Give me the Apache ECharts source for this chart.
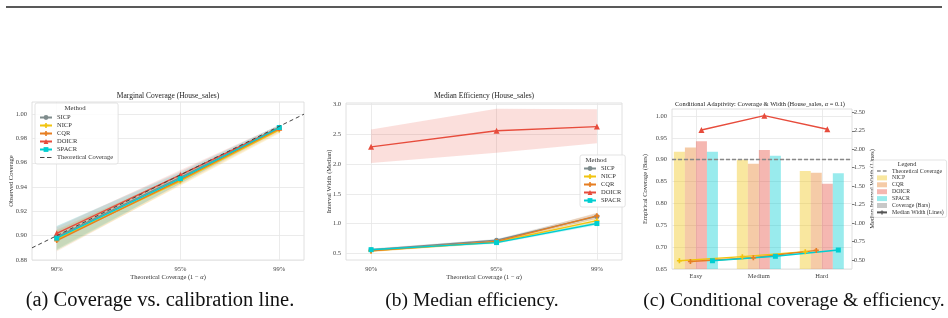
<!DOCTYPE html>
<html>
<head>
<meta charset="utf-8">
<script src="https://cdn.jsdelivr.net/npm/echarts@6/dist/echarts.min.js"></script>
<style>
  html, body { margin: 0; padding: 0; background: #fff; }
  #chart { width: 948px; height: 318px; }
</style>
</head>
<body>
<div id="chart"></div>
<script>
// ---- data ----
var levels = [0.90, 0.95, 0.99];
var covTicks = [0.88, 0.90, 0.92, 0.94, 0.96, 0.98, 1.00];
var widthTicks = [0.5, 1.0, 1.5, 2.0, 2.5, 3.0];

// (a) marginal coverage, mean and band
var covSICP = [0.899, 0.948, 0.989];
var covNICP = [0.897, 0.945, 0.987];
var covCQR = [0.896, 0.946, 0.988];
var covDOICR = [0.902, 0.950, 0.989];
var covSPACR = [0.898, 0.947, 0.989];
var covLoSICP = [0.889, 0.943, 0.986], covHiSICP = [0.908, 0.953, 0.991];
var covLoNICP = [0.888, 0.941, 0.984], covHiNICP = [0.905, 0.950, 0.990];
var covLoCQR = [0.887, 0.942, 0.985], covHiCQR = [0.904, 0.950, 0.990];
var covLoDOICR = [0.895, 0.946, 0.987], covHiDOICR = [0.907, 0.954, 0.991];
var covLoSPACR = [0.888, 0.943, 0.987], covHiSPACR = [0.908, 0.952, 0.991];

// (b) median width, mean and band
var widSICP = [0.56, 0.72, 1.12];
var widNICP = [0.54, 0.69, 1.05];
var widCQR = [0.54, 0.70, 1.13];
var widDOICR = [2.29, 2.56, 2.63];
var widSPACR = [0.56, 0.68, 1.00];
var widLoSICP = [0.54, 0.70, 1.08], widHiSICP = [0.58, 0.74, 1.17];
var widLoNICP = [0.52, 0.67, 1.01], widHiNICP = [0.56, 0.71, 1.09];
var widLoCQR = [0.52, 0.68, 1.08], widHiCQR = [0.56, 0.72, 1.18];
var widLoDOICR = [2.02, 2.19, 2.35], widHiDOICR = [2.58, 2.93, 2.92];
var widLoSPACR = [0.54, 0.66, 0.97], widHiSPACR = [0.58, 0.70, 1.03];

// (c) conditional coverage (bars) and width (lines)
var difficulty = ['Easy', 'Medium', 'Hard'];
var condCovNICP = [0.918, 0.900, 0.874];
var condCovCQR = [0.928, 0.891, 0.870];
var condCovDOICR = [0.942, 0.922, 0.845];
var condCovSPACR = [0.918, 0.909, 0.869];
var condWidNICP = [0.49, 0.545, 0.613];
var condWidCQR = [0.48, 0.53, 0.63];
var condWidDOICR = [2.26, 2.455, 2.27];
var condWidSPACR = [0.49, 0.55, 0.635];
var targetCoverage = 0.90;
var condCovTicks = [0.65, 0.70, 0.75, 0.80, 0.85, 0.90, 0.95, 1.00];
var condWidTicks = [0.50, 0.75, 1.00, 1.25, 1.50, 1.75, 2.00, 2.25, 2.50];

// ---- style ----
var FONT = 'Liberation Serif';
var C = { SICP: '#7f8c8d', NICP: '#f1c40f', CQR: '#e67e22', DOICR: '#e74c3c', SPACR: '#00ced1' };
var SYM = {
  SICP: 'circle',
  NICP: 'path://M-1,-3H1V-1H3V1H1V3H-1V1H-3V-1H-1Z',
  CQR: 'path://M-1,-3H1V-1H3V1H1V3H-1V1H-3V-1H-1Z',
  DOICR: 'triangle',
  SPACR: 'rect'
};
// dashed-line legend icon (two short dashes)
var DASH_ICON = 'path://M0,0h0.01v0.01h-0.01zM0,5h9v2h-9zM14,5h9v2h-9zM24,12h0.01v0.01h-0.01z';
var X_MIN = 0.89, X_MAX = 1.0;
var BAR_W = 0.175; // bar width in category units, as in the source plot

var chart = echarts.init(document.getElementById('chart'));

function tick(v, d) { return v.toFixed(d); }

function valueX(grid, name) {
  return {
    type: 'value', gridIndex: grid, min: X_MIN, max: X_MAX,
    axisLine: { show: false },
    axisTick: { show: false, customValues: levels },
    axisLabel: { customValues: levels, formatter: function (v) { return Math.round(v * 100) + '%'; },
      fontFamily: FONT, fontSize: 6.5, color: '#444', margin: 6 },
    splitLine: { show: true, lineStyle: { color: '#e6e6e6', width: 0.8 } },
    name: name, nameLocation: 'middle', nameGap: 13,
    nameTextStyle: { fontFamily: FONT, fontSize: 6.5, color: '#333',
      rich: { i: { fontStyle: 'italic', fontFamily: FONT, fontSize: 6.5, color: '#333' } } }
  };
}

function valueY(grid, min, max, ticks, dec, name, gap) {
  return {
    type: 'value', gridIndex: grid, min: min, max: max,
    axisLine: { show: false },
    axisTick: { show: false, customValues: ticks },
    axisLabel: { customValues: ticks, formatter: function (v) { return tick(v, dec); },
      fontFamily: FONT, fontSize: 6.5, color: '#444', margin: 5 },
    splitLine: { show: true, lineStyle: { color: '#e6e6e6', width: 0.8 } },
    name: name, nameLocation: 'middle', nameGap: gap, nameRotate: 90, nameMoveOverlap: false,
    nameTextStyle: { fontFamily: FONT, fontSize: 6.5, color: '#333' }
  };
}

function band(lo, hi, color, opacity, xi, yi) {
  return {
    type: 'custom', xAxisIndex: xi, yAxisIndex: yi, silent: true, z: 1,
    data: [[levels[0], lo[0]]],
    renderItem: function (params, api) {
      var pts = [];
      for (var i = 0; i < levels.length; i++) pts.push(api.coord([levels[i], hi[i]]));
      for (var j = levels.length - 1; j >= 0; j--) pts.push(api.coord([levels[j], lo[j]]));
      return { type: 'polygon', shape: { points: pts }, style: { fill: color, opacity: opacity } };
    }
  };
}

function methodLine(name, vals, xi, yi) {
  return {
    type: 'line', name: name, xAxisIndex: xi, yAxisIndex: yi, z: 3,
    data: levels.map(function (x, i) { return [x, vals[i]]; }),
    symbol: SYM[name], symbolSize: name === 'DOICR' ? 6 : 5,
    lineStyle: { color: C[name], width: 1.4 }, itemStyle: { color: C[name] }
  };
}

var series = [];
// (a)
series.push(band(covLoSICP, covHiSICP, C.SICP, 0.15, 0, 0));
series.push(band(covLoNICP, covHiNICP, C.NICP, 0.15, 0, 0));
series.push(band(covLoCQR, covHiCQR, C.CQR, 0.12, 0, 0));
series.push(band(covLoDOICR, covHiDOICR, C.DOICR, 0.12, 0, 0));
series.push(band(covLoSPACR, covHiSPACR, C.SPACR, 0.15, 0, 0));
series.push(methodLine('SICP', covSICP, 0, 0));
series.push(methodLine('NICP', covNICP, 0, 0));
series.push(methodLine('CQR', covCQR, 0, 0));
series.push(methodLine('DOICR', covDOICR, 0, 0));
series.push(methodLine('SPACR', covSPACR, 0, 0));
series.push({
  type: 'line', name: 'Theoretical Coverage', xAxisIndex: 0, yAxisIndex: 0, z: 4,
  data: [[X_MIN, X_MIN], [X_MAX, X_MAX]], symbol: 'none',
  lineStyle: { color: '#444', width: 1, type: [4, 3] }, itemStyle: { color: '#444' }
});
// (b)
series.push(band(widLoSICP, widHiSICP, C.SICP, 0.2, 1, 1));
series.push(band(widLoNICP, widHiNICP, C.NICP, 0.2, 1, 1));
series.push(band(widLoCQR, widHiCQR, C.CQR, 0.2, 1, 1));
series.push(band(widLoDOICR, widHiDOICR, C.DOICR, 0.18, 1, 1));
series.push(band(widLoSPACR, widHiSPACR, C.SPACR, 0.2, 1, 1));
series.push(methodLine('SICP', widSICP, 1, 1));
series.push(methodLine('NICP', widNICP, 1, 1));
series.push(methodLine('CQR', widCQR, 1, 1));
series.push(methodLine('DOICR', widDOICR, 1, 1));
series.push(methodLine('SPACR', widSPACR, 1, 1));

// (c)
var condNames = ['NICP', 'CQR', 'DOICR', 'SPACR'];
var condCov = [condCovNICP, condCovCQR, condCovDOICR, condCovSPACR];
var condWid = [condWidNICP, condWidCQR, condWidDOICR, condWidSPACR];
condNames.forEach(function (m, k) {
  var off = (k - 1.5) * BAR_W;
  series.push({
    type: 'bar', name: m + ' ', xAxisIndex: 2, yAxisIndex: 2, barWidth: 11, barGap: '-100%',
    data: condCov[k].map(function (v, i) { return [i + off, v]; }),
    itemStyle: { color: C[m], opacity: 0.4 }
  });
});
series.push({
  type: 'bar', name: 'Coverage (Bars)', xAxisIndex: 2, yAxisIndex: 2, barWidth: 11, barGap: '-100%',
  data: [], itemStyle: { color: '#c8c8c8' }
});
series.push({
  type: 'line', name: 'Theoretical Coverage ', xAxisIndex: 2, yAxisIndex: 2, data: [], symbol: 'none',
  lineStyle: { color: '#777', width: 1.4, type: [4, 2] }, itemStyle: { color: '#777' },
  markLine: { silent: true, symbol: 'none', label: { show: false },
    lineStyle: { color: '#888', width: 1.4, type: [4, 2] }, data: [{ yAxis: targetCoverage }] }
});
condNames.forEach(function (m, k) {
  var off = (k - 1.5) * BAR_W;
  series.push({
    type: 'line', name: m + ' width', xAxisIndex: 2, yAxisIndex: 3, z: 5,
    data: condWid[k].map(function (v, i) { return [i + off, v]; }),
    symbol: SYM[m], symbolSize: m === 'DOICR' ? 6 : 5,
    lineStyle: { color: C[m], width: 1.4 }, itemStyle: { color: C[m] }
  });
});
series.push({
  type: 'line', name: 'Median Width (Lines)', xAxisIndex: 2, yAxisIndex: 3, data: [],
  symbol: SYM.CQR, symbolSize: 5, lineStyle: { color: '#555', width: 1.4 }, itemStyle: { color: '#555' }
});

var legendText = { fontFamily: FONT, fontSize: 6.5, color: '#333' };
function legendBox(extra) {
  return Object.assign({
    orient: 'vertical', itemWidth: 12, itemHeight: 6, itemGap: 1.0,
    backgroundColor: 'rgba(255,255,255,0.85)', borderColor: '#dcdcdc', borderWidth: 0.8,
    borderRadius: 2, textStyle: legendText, selectedMode: false
  }, extra);
}
function dashedEntry(name, color) {
  return { name: name, icon: DASH_ICON, itemStyle: { color: color, borderWidth: 0 },
    lineStyle: { opacity: 0 } };
}

var option = {
  animation: false,
  backgroundColor: '#fff',
  grid: [
    { left: 32, top: 102, width: 272, height: 158, show: true, borderColor: '#d8d8d8', borderWidth: 0.8 },
    { left: 346, top: 103, width: 276, height: 157, show: true, borderColor: '#d8d8d8', borderWidth: 0.8 },
    { left: 672, top: 109, width: 180, height: 160, show: true, borderColor: '#d8d8d8', borderWidth: 0.8 }
  ],
  xAxis: [
    valueX(0, 'Theoretical Coverage (1 \u2212 {i|\u03b1})'),
    valueX(1, 'Theoretical Coverage (1 \u2212 {i|\u03b1})'),
    {
      type: 'value', gridIndex: 2, min: -0.38, max: 2.48,
      axisLine: { show: false },
      axisTick: { show: false, customValues: [0, 1, 2] },
      axisLabel: { customValues: [0, 1, 2], formatter: function (v) { return difficulty[Math.round(v)]; },
        fontFamily: FONT, fontSize: 6.5, color: '#444', margin: 4 },
      splitLine: { show: true, lineStyle: { color: '#e6e6e6', width: 0.8 } }
    }
  ],
  yAxis: [
    valueY(0, 0.88, 1.01, covTicks, 2, 'Observed Coverage', 17.5),
    valueY(1, 0.387, 3.027, widthTicks, 1, 'Interval Width (Median)', 13.5),
    valueY(2, 0.65, 1.016, condCovTicks, 2, 'Empirical Coverage (Bars)', 23.5),
    {
      type: 'value', gridIndex: 2, position: 'right', min: 0.378, max: 2.545,
      axisLine: { show: false },
      axisTick: { show: true, length: 2.5, customValues: condWidTicks, lineStyle: { color: '#555', width: 0.8 } },
      axisLabel: { customValues: condWidTicks, formatter: function (v) { return tick(v, 2); },
        fontFamily: FONT, fontSize: 6.3, color: '#444', margin: 2 },
      splitLine: { show: false },
      name: 'Median Interval Width (Lines)', nameLocation: 'middle', nameGap: 16.5, nameRotate: 90,
      nameMoveOverlap: false,
      nameTextStyle: { fontFamily: FONT, fontSize: 6.5, color: '#333' }
    }
  ],
  legend: [
    legendBox({ left: 35, top: 103, padding: [11, 5, 3, 4],
      data: ['SICP', 'NICP', 'CQR', 'DOICR', 'SPACR', dashedEntry('Theoretical Coverage', '#444')] }),
    legendBox({ left: 580, top: 155, padding: [10, 4, 3, 3],
      data: ['SICP', 'NICP', 'CQR', 'DOICR', 'SPACR'] }),
    legendBox({ left: 873, top: 160, padding: [8, 3, 2, 3], itemWidth: 10, itemHeight: 5, itemGap: 0.9,
      textStyle: { fontFamily: FONT, fontSize: 5.8, color: '#333' },
      data: [
        dashedEntry('Theoretical Coverage ', '#555'),
        { name: 'NICP ', icon: 'rect' }, { name: 'CQR ', icon: 'rect' },
        { name: 'DOICR ', icon: 'rect' }, { name: 'SPACR ', icon: 'rect' },
        { name: 'Coverage (Bars)', icon: 'rect' },
        { name: 'Median Width (Lines)' }
      ] })
  ],
  graphic: [
    { type: 'line', z: 100, shape: { x1: 6, y1: 7, x2: 942, y2: 7 }, style: { stroke: '#222', lineWidth: 1.5 } },
    { type: 'text', z: 100, x: 168, y: 96, style: { text: 'Marginal Coverage (House_sales)', align: 'center', verticalAlign: 'middle', font: '7.5px ' + FONT, fill: '#222' } },
    { type: 'text', z: 100, x: 484, y: 96, style: { text: 'Median Efficiency (House_sales)', align: 'center', verticalAlign: 'middle', font: '7.5px ' + FONT, fill: '#222' } },
    { type: 'text', z: 100, x: 760, y: 104, style: { text: 'Conditional Adaptivity: Coverage & Width (House_sales, {i|\u03b1} = 0.1)', align: 'center', verticalAlign: 'middle', font: '6.4px ' + FONT, fill: '#222', rich: { i: { fontStyle: 'italic', fontFamily: FONT, fontSize: 6.4, fill: '#222' } } } },
    { type: 'text', z: 100, x: 75, y: 108.5, style: { text: 'Method', align: 'center', verticalAlign: 'middle', font: '6.8px ' + FONT, fill: '#333' } },
    { type: 'text', z: 100, x: 596, y: 160, style: { text: 'Method', align: 'center', verticalAlign: 'middle', font: '6.8px ' + FONT, fill: '#333' } },
    { type: 'text', z: 100, x: 907, y: 164, style: { text: 'Legend', align: 'center', verticalAlign: 'middle', font: '6.2px ' + FONT, fill: '#333' } },
    { type: 'text', z: 100, x: 160, y: 301, style: { text: '(a) Coverage vs. calibration line.', align: 'center', verticalAlign: 'middle', font: '20.5px ' + FONT, fill: '#111' } },
    { type: 'text', z: 100, x: 472, y: 301, style: { text: '(b) Median efficiency.', align: 'center', verticalAlign: 'middle', font: '19.5px ' + FONT, fill: '#111' } },
    { type: 'text', z: 100, x: 794, y: 301, style: { text: '(c) Conditional coverage & efficiency.', align: 'center', verticalAlign: 'middle', font: '19.6px ' + FONT, fill: '#111' } }
  ],
  series: series
};

chart.setOption(option);
</script>
</body>
</html>
